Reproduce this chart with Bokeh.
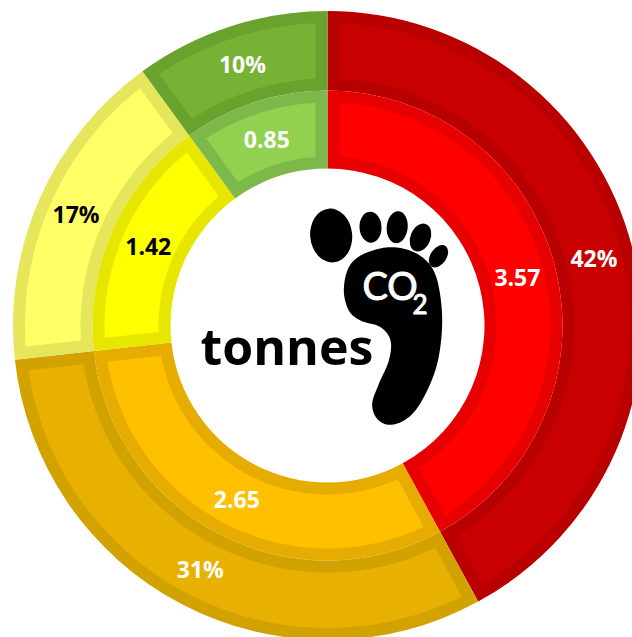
import numpy as np
from bokeh.plotting import figure
from bokeh.embed import file_html
from bokeh.resources import INLINE
from bokeh.core.properties import value

categories = ["red", "orange", "yellow", "green"]
tonnes = [3.57, 2.65, 1.42, 0.85]
tonne_labels = ["3.57", "2.65", "1.42", "0.85"]
percent_labels = ["42%", "31%", "17%", "10%"]
inner_fill = ["#FF0000", "#FFC000", "#FFFF00", "#92D050"]
inner_edge = ["#E60000", "#E6AC00", "#E6E600", "#7DB84A"]
outer_fill = ["#C80000", "#E8B000", "#FFFF66", "#76B234"]
outer_edge = ["#B80000", "#D2A200", "#E6E65C", "#6AA22E"]
label_color = ["white", "white", "black", "white"]

# icon geometry, pixels relative to the ring centre
toes = [(3.7, 90, 21, 27, 0.1), (43, 98.3, 11, 15.5, 0.05), (69.7, 98.3, 10.5, 16, -0.1),
        (93, 88, 10, 14.5, -0.4), (111, 69.3, 8, 12.5, -0.6)]
sole = [(330,170),(400,185),(450,225),(475,290),(485,400),(470,520),(430,620),(385,680),(330,703),
        (290,685),(275,640),(295,580),(325,510),(330,450),(300,410),(240,390),(205,360),(190,300),(205,230),(250,190)]

R_IN, R_MID, R_OUT, BAND = 157, 235, 314.5, 12
CX, CY = 327, 325

p = figure(width=632, height=637, x_range=(-CX, 632 - CX), y_range=(CY - 637, CY),
           output_backend="svg", toolbar_location=None, min_border=0)
p.axis.visible = False
p.grid.visible = False
p.outline_line_color = None
p.background_fill_color = "white"


def inset(a0, a1, r0, r1, d):
    """Polygon of a ring segment moved inward by d pixels on every side (angles clockwise from top)."""
    ra, rb = r0 + d, r1 - d
    t_out = np.linspace(a0 + np.arcsin(d / rb), a1 - np.arcsin(d / rb), 120)
    t_in = np.linspace(a1 - np.arcsin(d / ra), a0 + np.arcsin(d / ra), 120)
    return (np.r_[rb * np.sin(t_out), ra * np.sin(t_in)],
            np.r_[rb * np.cos(t_out), ra * np.cos(t_in)])


def ring(vals, r0, r1, fills, edges, labels, lab_r):
    v = np.array(vals, float)
    edges_a = np.r_[0, np.cumsum(v)] / v.sum() * 2 * np.pi
    for i in range(len(v)):
        a0, a1 = edges_a[i], edges_a[i + 1]
        p.annular_wedge(0, 0, r0, r1, np.pi / 2 - a0, np.pi / 2 - a1, direction="clock",
                        fill_color=edges[i], line_color=None)
        xs, ys = inset(a0, a1, r0, r1, BAND)
        p.patch(xs, ys, fill_color=fills[i], line_color=None)
    mids = (edges_a[:-1] + edges_a[1:]) / 2
    p.text(lab_r * np.sin(mids), lab_r * np.cos(mids), text=labels, text_color=label_color,
           text_font=value("Open Sans"), text_font_style="bold", text_font_size="23px",
           text_align="center", text_baseline="middle")


ring(tonnes, R_MID, R_OUT, outer_fill, outer_edge, percent_labels, 275)
ring(tonnes, R_IN, R_MID, inner_fill, inner_edge, tonne_labels, 196)

# footprint
s = np.array(sole, float) / 3 + [280, 190]
s = np.c_[s[:, 0] - CX, CY - s[:, 1]]
n = len(s)
sx, sy = [], []
for i in range(n):
    a, b, c, d = s[i - 1], s[i], s[(i + 1) % n], s[(i + 2) % n]
    for t in np.linspace(0, 1, 12, endpoint=False):
        q = 0.5 * (2 * b + (c - a) * t + (2 * a - 5 * b + 4 * c - d) * t ** 2 + (3 * b - a - 3 * c + d) * t ** 3)
        sx.append(q[0]); sy.append(q[1])
p.patch(sx, sy, fill_color="black", line_color=None)
p.ellipse([t[0] for t in toes], [t[1] for t in toes], width=[2 * t[2] for t in toes],
          height=[2 * t[3] for t in toes], angle=[t[4] for t in toes], fill_color="black", line_color=None)

p.text([-127], [-20], text=["tonnes"], text_font=value("Open Sans"), text_font_style="bold", text_font_size="50px",
       text_color="black", text_align="left", text_baseline="middle")
p.text([35], [41], text=["CO"], text_font=value("Lato"), text_font_size="38px", text_color="white",
       text_outline_color="white", text_align="left", text_baseline="middle")
p.text([85], [22], text=["2"], text_font=value("Lato"), text_font_size="26px", text_color="white",
       text_outline_color="white", text_align="left", text_baseline="middle")

open("out.html", "w").write(file_html(p, INLINE))
